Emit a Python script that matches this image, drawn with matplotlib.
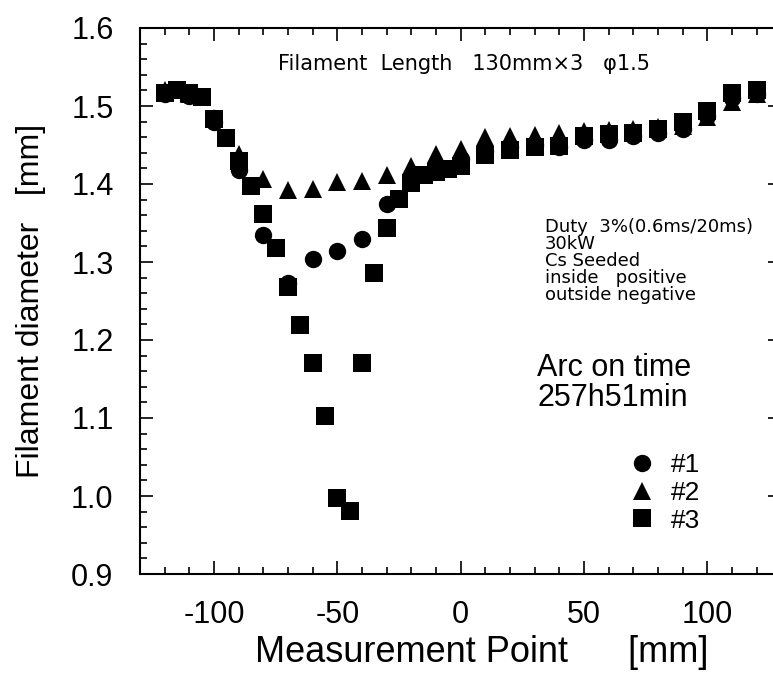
import matplotlib
matplotlib.use("Agg")
import matplotlib.pyplot as plt
from matplotlib.ticker import MultipleLocator, FormatStrFormatter

plt.rcParams["font.family"] = ["Liberation Sans", "DejaVu Sans"]
plt.rcParams["axes.unicode_minus"] = False

# measurement points [mm] and filament diameters [mm]
x_sq = [-120, -115, -110, -105, -100, -95, -90, -85, -80, -75, -70, -65, -60,
        -55, -50, -45, -40, -35, -30, -25, -20, -15, -10, -5, 0,
        10, 20, 30, 40, 50, 60, 70, 80, 90, 100, 110, 120]
y_sq = [1.517, 1.520, 1.517, 1.512, 1.483, 1.459, 1.429, 1.397, 1.362, 1.318, 1.268, 1.219, 1.171,
        1.102, 0.997, 0.981, 1.171, 1.286, 1.343, 1.381, 1.401, 1.411, 1.415, 1.419, 1.423,
        1.437, 1.444, 1.447, 1.449, 1.462, 1.464, 1.466, 1.471, 1.479, 1.494, 1.517, 1.520]

x_10 = [-120, -110, -100, -90, -80, -70, -60, -50, -40, -30, -20, -10, 0,
        10, 20, 30, 40, 50, 60, 70, 80, 90, 100, 110, 120]
y_c = [1.515, 1.513, 1.480, 1.418, 1.335, 1.273, 1.304, 1.314, 1.330, 1.374, 1.405, 1.422, 1.432,
       1.442, 1.447, 1.450, 1.448, 1.456, 1.456, 1.461, 1.465, 1.471, 1.487, 1.510, 1.515]
y_t = [1.520, 1.515, 1.485, 1.438, 1.407, 1.392, 1.394, 1.403, 1.404, 1.412, 1.423, 1.438, 1.445,
       1.460, 1.462, 1.463, 1.465, 1.468, 1.469, 1.471, 1.473, 1.475, 1.486, 1.505, 1.515]

labels = ["#1", "#2", "#3"]

fig = plt.figure(figsize=(7.73, 6.81), dpi=100)
ax = fig.add_axes([140 / 773, 107 / 681, 641.4 / 773, 546 / 681])

ms = 12.5
ax.plot(x_10, y_c, "o", color="black", ms=ms, mew=0, label=labels[0])
ax.plot(x_10, y_t, "^", color="black", ms=ms, mew=0, label=labels[1])
ax.plot(x_sq, y_sq, "s", color="black", ms=ms, mew=0, label=labels[2])

ax.set_xlim(-130, 130)
ax.set_ylim(0.9, 1.6)
ax.xaxis.set_major_locator(MultipleLocator(50))
ax.xaxis.set_minor_locator(MultipleLocator(10))
ax.yaxis.set_major_locator(MultipleLocator(0.1))
ax.yaxis.set_minor_locator(MultipleLocator(0.02))
ax.yaxis.set_major_formatter(FormatStrFormatter("%.1f"))
ax.tick_params(which="both", direction="in", top=True, right=True, width=1.2)
ax.tick_params(which="major", length=9.5, labelsize=22, pad=19)
ax.tick_params(which="minor", length=5)
for s in ax.spines.values():
    s.set_linewidth(1.5)

ax.set_xlabel("Measurement Point      [mm]", fontsize=26)
ax.xaxis.set_label_coords(0.533, -0.112)
ax.set_ylabel("Filament diameter   [mm]", fontsize=23, labelpad=18)

# letter-spaced looking notes, DejaVu is a bit wider than Liberation
ax.text(0.505, 0.934, "Filament  Length   130mm\u00d73   \u03c61.5", transform=ax.transAxes,
        ha="center", va="center", fontsize=15, family="DejaVu Sans")
ax.text(0.631, 0.652, "Duty  3%(0.6ms/20ms)\n30kW\nCs Seeded\ninside   positive\noutside negative",
        transform=ax.transAxes, fontsize=13, family="DejaVu Sans", va="top", linespacing=0.92)
ax.text(0.619, 0.35, "Arc on time\n257h51min", transform=ax.transAxes, fontsize=22,
        va="center", linespacing=1.0)

ax.legend(loc="upper left", bbox_to_anchor=(0.762, 0.222), frameon=False, fontsize=19,
          handlelength=1.0, handletextpad=0.6, labelspacing=0.15, borderpad=0, borderaxespad=0,
          numpoints=1)

fig.savefig("out.png", dpi=100)
